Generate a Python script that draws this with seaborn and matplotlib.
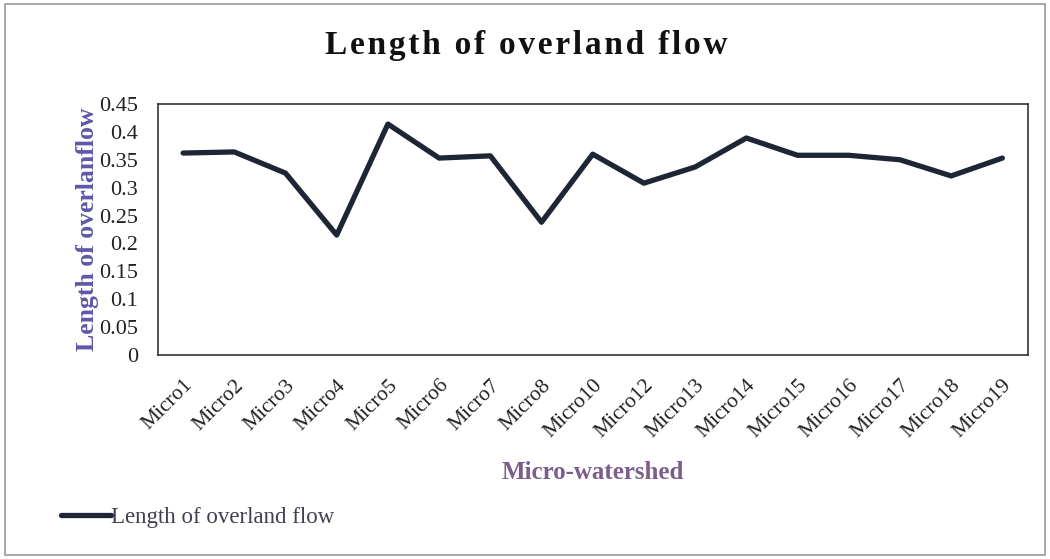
import numpy as np
import pandas as pd
import seaborn as sns
import matplotlib.pyplot as plt
from matplotlib.patches import Rectangle

# values
watersheds = ['Micro1', 'Micro2', 'Micro3', 'Micro4', 'Micro5', 'Micro6', 'Micro7', 'Micro8',
              'Micro10', 'Micro12', 'Micro13', 'Micro14', 'Micro15', 'Micro16', 'Micro17',
              'Micro18', 'Micro19']
overland_flow = [0.362, 0.364, 0.326, 0.215, 0.414, 0.353, 0.357, 0.238,
                 0.360, 0.308, 0.337, 0.389, 0.358, 0.358, 0.350, 0.321, 0.353]
y_ticks = [0, 0.05, 0.1, 0.15, 0.2, 0.25, 0.3, 0.35, 0.4, 0.45]
y_tick_labels = ['0', '0.05', '0.1', '0.15', '0.2', '0.25', '0.3', '0.35', '0.4', '0.45']

df = pd.DataFrame({'watershed': watersheds, 'lof': overland_flow})
df['pos'] = np.arange(len(df))

sns.set_style('white')
plt.rcParams['font.family'] = ['Liberation Serif', 'DejaVu Serif']

fig = plt.figure(figsize=(10.5, 5.59), dpi=100)
ax = fig.add_axes([0.150, 0.365, 0.829, 0.449])

sns.lineplot(data=df, x='pos', y='lof', ax=ax, color='#1e2636', linewidth=3.8,
             label='Length of overland flow', legend=False)

ax.set_xlim(-0.5, len(df) - 0.5)
ax.set_ylim(0, 0.45)
ax.set_yticks(y_ticks)
ax.set_yticklabels(y_tick_labels, fontsize=16, color='#222222')
ax.set_xticks(df['pos'])
ax.set_xticklabels(df['watershed'], rotation=45, ha='right', rotation_mode='anchor',
                   fontsize=15.5, color='#222222')
ax.tick_params(axis='y', length=0, pad=14)
ax.tick_params(axis='x', length=0, pad=15)
for s in ax.spines.values():
    s.set_color('#333333')
    s.set_linewidth(1.2)

ax.set_xlabel('Micro-watershed', fontsize=18, fontweight='bold', color='#7b5e8c', labelpad=14)
ax.set_ylabel('Length of overlanflow', fontsize=18.5, fontweight='bold', color='#5d58a8', labelpad=0)

# letter-spaced title, like the original
title = '\u200a'.join('Length of overland flow')
fig.text(0.501, 0.918, title, ha='center', va='center',
         fontsize=24, fontweight='bold', color='#111111')

handles, labels = ax.get_legend_handles_labels()
fig.legend(handles, labels, loc='center left', bbox_to_anchor=(0.038, 0.075), frameon=False,
           fontsize=16.5, handlelength=2.2, handletextpad=0.0, labelcolor='#404050')

fig.patches.append(Rectangle((0.005, 0.008), 0.99, 0.985, transform=fig.transFigure,
                             fill=False, edgecolor='#9a9a9a', linewidth=1.2))

fig.savefig('out.png', dpi=100)
